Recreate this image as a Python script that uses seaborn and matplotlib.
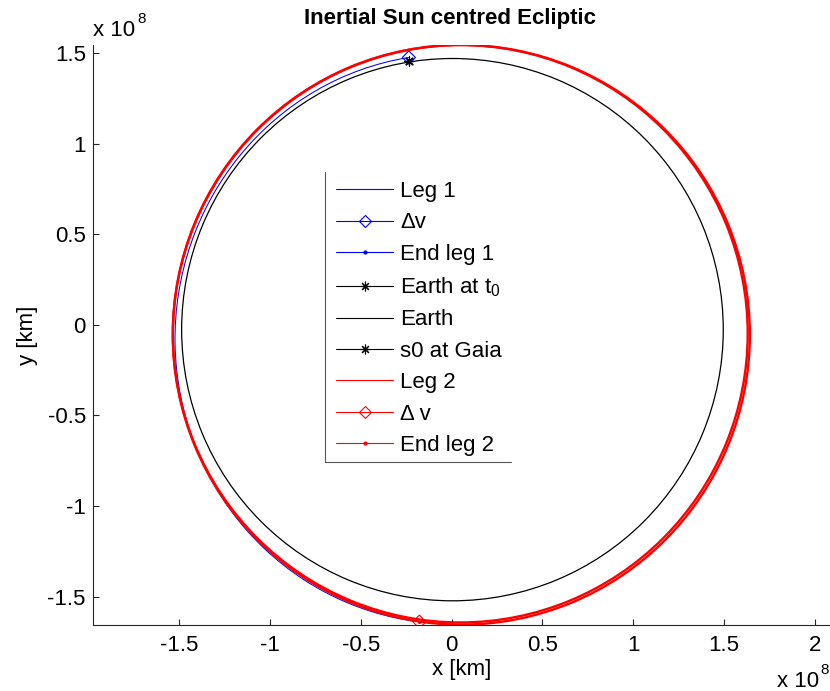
import matplotlib
matplotlib.use("Agg")
import matplotlib.pyplot as plt
import seaborn as sns
from matplotlib.patches import Arc
from matplotlib.lines import Line2D
from matplotlib.markers import MarkerStyle
from matplotlib.ticker import MultipleLocator, FuncFormatter

sns.set_style("white")
plt.rcParams["font.family"] = ["Liberation Sans", "DejaVu Sans"]
plt.rcParams["mathtext.fontset"] = "custom"
plt.rcParams["mathtext.rm"] = "Liberation Sans"
plt.rcParams["mathtext.it"] = "Liberation Sans"
plt.rcParams["axes.unicode_minus"] = False
plt.rcParams["text.color"] = "black"
plt.rcParams["axes.labelcolor"] = "black"
plt.rcParams["axes.titlecolor"] = "black"

# Orbit arcs (km): centre, semi-axes and swept angle range in degrees
orbit_names = ["Leg 1", "Earth", "Leg 2 (first turn)", "Leg 2 (second turn)"]
orbit_cx = [0.0, 0.005e8, 0.048e8, 0.054e8]
orbit_cy = [-0.078e8, -0.027e8, -0.0495e8, -0.0555e8]
orbit_ax = [1.522e8, 1.4905e8, 1.582e8, 1.588e8]
orbit_ay = [1.572e8, 1.4965e8, 1.5935e8, 1.5995e8]
orbit_t1 = [98.6, 0.0, 0.0, 0.0]
orbit_t2 = [263.5, 360.0, 360.0, 360.0]
orbit_colors = ["#0000ff", "#000000", "#ff0000", "#ff0000"]
orbit_widths = [0.75, 0.9, 1.7, 1.7]
orbit_z = [2, 5, 7, 7]

# Event points (km)
point_names = ["Δv", "End leg 1", "Earth at t0", "s0 at Gaia", "Δ v", "End leg 2"]
point_x = [-0.235e8, -0.177e8, -0.236e8, -0.234e8, -0.177e8, -0.177e8]
point_y = [1.475e8, -1.639e8, 1.455e8, 1.457e8, -1.639e8, -1.641e8]

legend_labels = ["Leg 1", "Δv", "End leg 1", "Earth at t$_0$", "Earth",
                 "s0 at Gaia", "Leg 2", "Δ v", "End leg 2"]

x_limits = [-1.975e8, 2.083e8]
y_limits = [-1.657e8, 1.544e8]

FS = 16
W, H = 830, 691
fig = plt.figure(figsize=(W / 100, H / 100), dpi=100)
ax = fig.add_axes([92.7 / W, (H - 625) / H, (W - 92.7) / W, 580 / H])

for cx, cy, a, b, t1, t2, c, lw, z in zip(orbit_cx, orbit_cy, orbit_ax, orbit_ay,
                                          orbit_t1, orbit_t2, orbit_colors,
                                          orbit_widths, orbit_z):
    ax.add_patch(Arc((cx, cy), 2 * a, 2 * b, theta1=t1, theta2=t2,
                     color=c, lw=lw, zorder=z))

diamond = MarkerStyle("D", fillstyle="none")
asterisk = (8, 2, 0)
marker_specs = [
    (diamond, "#0000ff", 45, 0.8, 3),
    ("o", "#0000ff", 4, 0.0, 4),
    (asterisk, "#000000", 45, 0.8, 4.5),
    (asterisk, "#000000", 45, 0.8, 6),
    (diamond, "#ff0000", 45, 0.8, 8),
    ("o", "#ff0000", 4, 0.0, 9),
]
for px, py, (m, c, s, lw, z) in zip(point_x, point_y, marker_specs):
    sns.scatterplot(x=[px], y=[py], marker=m, color=c, s=s, linewidth=lw,
                    edgecolor=c if lw else None, zorder=z, ax=ax, legend=False)

ax.set_xlim(x_limits)
ax.set_ylim(y_limits)
ax.xaxis.set_major_locator(MultipleLocator(0.5e8))
ax.yaxis.set_major_locator(MultipleLocator(0.5e8))


def scaled(v, pos):
    r = round(v / 1e8, 2)
    if r == 0:
        return "0"
    return f"{r:g}"


ax.xaxis.set_major_formatter(FuncFormatter(scaled))
ax.yaxis.set_major_formatter(FuncFormatter(scaled))

for side in ["top", "right"]:
    ax.spines[side].set_visible(False)
for side in ["left", "bottom"]:
    ax.spines[side].set_color("#262626")
    ax.spines[side].set_linewidth(0.8)
ax.tick_params(direction="in", length=4, width=0.8, colors="#262626",
               labelcolor="black", labelsize=FS, left=True, bottom=True)
ax.tick_params(axis="x", pad=7)
ax.tick_params(axis="y", pad=5)

ax.set_xlabel("x [km]", fontsize=FS)
ax.set_ylabel("y [km]", fontsize=FS)
ax.xaxis.set_label_coords(0.5, -0.058)
ax.yaxis.set_label_coords(-0.074, 0.5)
ax.set_title("Inertial Sun centred Ecliptic", fontsize=FS, fontweight="bold",
             x=(450 - 92.7) / (W - 92.7), pad=15)

# Exponent annotations for both axes
fig.text(93 / W, 1 - 36 / H, "x 10", fontsize=FS, ha="left", va="baseline")
fig.text(137.5 / W, 1 - 23 / H, "8", fontsize=11, ha="left", va="baseline")
fig.text(777 / W, 1 - 687 / H, "x 10", fontsize=FS, ha="left", va="baseline")
fig.text(820 / W, 1 - 674 / H, "8", fontsize=11, ha="left", va="baseline")

# Legend
fs_px = FS * 100 / 72
leg_diamond = MarkerStyle("D", fillstyle="none")
handles = [
    Line2D([], [], color="#0000ff", lw=0.8),
    Line2D([], [], color="#0000ff", lw=0.8, marker=leg_diamond, ms=6.5, mew=0.8),
    Line2D([], [], color="#0000ff", lw=0.8, marker="o", ms=2),
    Line2D([], [], color="#000000", lw=0.8, marker=asterisk, ms=7, mew=0.8),
    Line2D([], [], color="#000000", lw=0.8),
    Line2D([], [], color="#000000", lw=0.8, marker=asterisk, ms=7, mew=0.8),
    Line2D([], [], color="#ff0000", lw=0.8),
    Line2D([], [], color="#ff0000", lw=0.8, marker=leg_diamond, ms=6.5, mew=0.8),
    Line2D([], [], color="#ff0000", lw=0.8, marker="o", ms=2),
]
leg = ax.legend(handles, legend_labels, loc="upper left",
                bbox_to_anchor=(336 / W, 1 - 181 / H),
                bbox_transform=fig.transFigure, frameon=False, fontsize=FS,
                borderpad=0, borderaxespad=0, handlelength=57 / fs_px,
                handletextpad=7 / fs_px, labelspacing=0.47)
leg.set_zorder(20)
fig.add_artist(Line2D([325 / W, 325 / W], [1 - 172 / H, 1 - 462 / H],
                      transform=fig.transFigure, color="#555555", lw=0.8))
fig.add_artist(Line2D([325 / W, 511 / W], [1 - 462 / H, 1 - 462 / H],
                      transform=fig.transFigure, color="#555555", lw=0.8))

fig.savefig("out.png", dpi=100)
